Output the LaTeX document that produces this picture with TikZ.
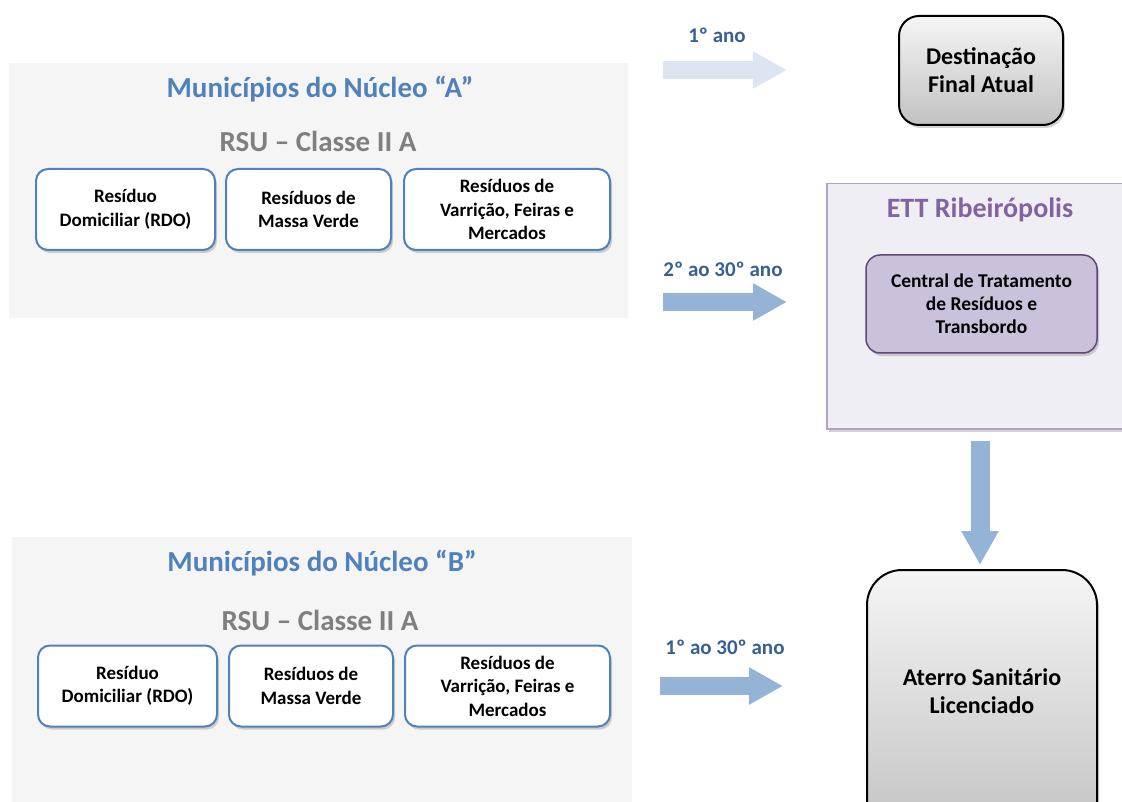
\documentclass[tikz,border=0pt]{standalone}
\usepackage{fontspec}
\setmainfont{Carlito}
\usetikzlibrary{arrows.meta,shadows}

\definecolor{panelgray}{HTML}{F5F5F5}
\definecolor{titleblue}{HTML}{4F81BD}
\definecolor{rsugray}{HTML}{7F7F7F}
\definecolor{boxblue}{HTML}{4F81BD}
\definecolor{labelblue}{HTML}{376092}
\definecolor{arrowlight}{HTML}{DCE6F2}
\definecolor{arrowmid}{HTML}{95B3D7}
\definecolor{ettfill}{HTML}{F0EEF5}
\definecolor{ettborder}{HTML}{B3A2C7}
\definecolor{etttitle}{HTML}{8064A2}
\definecolor{centralfill}{HTML}{CCC1DA}
\definecolor{centralborder}{HTML}{5F497A}

\tikzset{
  panelbox/.style={fill=panelgray, draw=none, anchor=north west, inner sep=0pt},
  headline/.style={font=\bfseries\fontsize{29}{34}\selectfont, text=titleblue},
  classline/.style={font=\bfseries\fontsize{29}{34}\selectfont, text=rsugray},
  wastebox/.style={draw=boxblue, line width=2pt, fill=white, rounded corners=12pt,
    drop shadow={shadow xshift=2pt, shadow yshift=-3pt, opacity=0.35},
    align=center, inner sep=0pt, minimum height=81pt,
    font=\bfseries\fontsize{19}{23.5}\selectfont},
  graybox/.style={draw=black, line width=2pt, top color=gray!8, bottom color=gray!48,
    drop shadow={shadow xshift=2pt, shadow yshift=-3pt, opacity=0.35},
    align=center, inner sep=0pt,
    font=\bfseries\fontsize{24}{28}\selectfont},
  yearlabel/.style={font=\bfseries\fontsize{21}{25}\selectfont, text=labelblue},
  blockarrow/.style={line width=18pt, -{Triangle[length=34pt, width=35pt]}},
}

\begin{document}
\begin{tikzpicture}[x=1pt, y=-1pt]
\useasboundingbox (0,0) rectangle (1122,802);

% ---- Núcleo A ----
\node[panelbox, minimum width=619pt, minimum height=255pt] (panelA) at (9,63) {};
\node[headline] (titleA) at (320,89) {Municípios do Núcleo “A”};
\node[classline] (classA) at (318,141) {RSU – Classe II A};
\node[wastebox, minimum width=179pt] (a1) at (125.5,209.5) {Resíduo\\Domiciliar (RDO)};
\node[wastebox, minimum width=165pt] (a2) at (308.5,209.5) {Resíduos de\\Massa Verde};
\node[wastebox, minimum width=206pt] (a3) at (507,209.5) {Resíduos de\\Varrição, Feiras e\\Mercados};

% ---- Núcleo B ----
\node[panelbox, minimum width=620pt, minimum height=265pt] (panelB) at (12,537) {};
\node[headline] (titleB) at (322,563) {Municípios do Núcleo “B”};
\node[classline] (classB) at (320,620) {RSU – Classe II A};
\node[wastebox, minimum width=179pt] (b1) at (127.5,686) {Resíduo\\Domiciliar (RDO)};
\node[wastebox, minimum width=164pt] (b2) at (311,686) {Resíduos de\\Massa Verde};
\node[wastebox, minimum width=205pt] (b3) at (507.5,686) {Resíduos de\\Varrição, Feiras e\\Mercados};

% ---- Destinação final atual ----
\node[graybox, rounded corners=20pt, minimum width=164pt, minimum height=109pt] (dest) at (981,70.5) {Destinação\\Final Atual};

% ---- ETT Ribeirópolis ----
\node[fill=ettfill, draw=ettborder, line width=1.5pt, anchor=north west, inner sep=0pt,
      minimum width=310pt, minimum height=245pt,
      drop shadow={shadow xshift=2pt, shadow yshift=-3pt, opacity=0.35}] (ett) at (826,183) {};
\node[font=\bfseries\fontsize{28}{33}\selectfont, text=etttitle] (etttitle) at (980,210) {ETT Ribeirópolis};
\node[fill=centralfill, draw=centralborder, line width=1.5pt, rounded corners=14pt,
      minimum width=231pt, minimum height=98pt, inner sep=0pt, align=center,
      drop shadow={shadow xshift=2pt, shadow yshift=-3pt, opacity=0.35},
      font=\bfseries\fontsize{19.5}{23}\selectfont] (central) at (981.5,304) {Central de Tratamento\\de Resíduos e\\Transbordo};

% ---- Aterro sanitário ----
\node[graybox, rounded corners=35pt, minimum width=230pt, minimum height=270pt] (aterro) at (982,705) {};
\node[font=\bfseries\fontsize{24}{28}\selectfont, align=center] (aterrotext) at (982,691) {Aterro Sanitário\\Licenciado};

% ---- Flows ----
\coordinate (f1s) at (663,70);  \coordinate (f1e) at (787,70);
\coordinate (f2s) at (663,302); \coordinate (f2e) at (787,302);
\coordinate (f3s) at (660,686); \coordinate (f3e) at (783,686);
\coordinate (f4s) at (980,441); \coordinate (f4e) at (980,565);

\draw[blockarrow, draw=arrowlight, fill=arrowlight] (f1s) -- (f1e);
\draw[blockarrow, draw=arrowmid, fill=arrowmid] (f2s) -- (f2e);
\draw[blockarrow, draw=arrowmid, fill=arrowmid] (f3s) -- (f3e);
\draw[blockarrow, draw=arrowmid, fill=arrowmid, line width=19pt] (f4s) -- (f4e);

\node[yearlabel] (y1) at (717,35) {1º ano};
\node[yearlabel] (y2) at (723,269) {2º ao 30º ano};
\node[yearlabel] (y3) at (725,647) {1º ao 30º ano};
\end{tikzpicture}
\end{document}
